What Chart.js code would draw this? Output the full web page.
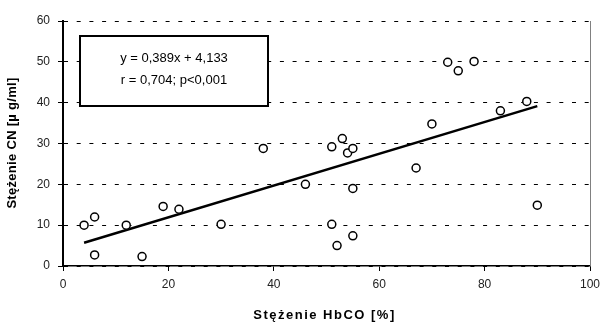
<!DOCTYPE html>
<html>
<head>
<meta charset="utf-8">
<script src="https://cdn.jsdelivr.net/npm/chart.js@4"></script>
<style>
  html, body { margin: 0; padding: 0; background: #fff; }
  #wrap { width: 603px; height: 322px; }
</style>
</head>
<body>
<div id="wrap"><canvas id="graph_1"></canvas></div>
<script>
// data
const hbco = [4, 6, 6, 12, 15, 19, 22, 30, 38, 46, 51, 51, 53, 54, 55, 55, 55, 52, 67, 70, 73, 75, 78, 83, 88, 90];
const cn = [10, 12, 2.7, 10, 2.3, 14.6, 13.9, 10.2, 28.8, 20, 29.2, 10.2, 31.2, 27.7, 28.8, 19, 7.4, 5, 24, 34.8, 49.9, 47.8, 50.1, 38, 40.3, 14.9];
const slope = 0.389;
const intercept = 4.133;
const fitText = ["y = 0,389x + 4,133", "r = 0,704; p<0,001"];
const xTitle = "Stężenie HbCO [%]";
const yTitle = "Stężenie CN [µ g/ml]";
const xTicks = [0, 20, 40, 60, 80, 100];
const yTicks = [0, 10, 20, 30, 40, 50, 60];

const points = hbco.map((x, i) => ({ x: x, y: cn[i] }));
const xMin = Math.min(...hbco);
const xMax = Math.max(...hbco);
const fitLine = [xMin, xMax].map((x) => ({ x: x, y: slope * x + intercept }));

const font = "'Liberation Sans', Arial, sans-serif";

const extras = {
  id: "extras",
  afterDraw(chart) {
    const c = chart.ctx;
    const a = chart.chartArea;
    c.save();
    // right border of plot area
    c.strokeStyle = "#808080";
    c.lineWidth = 1;
    c.beginPath();
    c.moveTo(a.right + 0.5, a.top);
    c.lineTo(a.right + 0.5, a.bottom);
    c.stroke();
    // equation box
    const bx = a.left + 17, by = a.top + 15, bw = 188, bh = 70;
    c.fillStyle = "#fff";
    c.fillRect(bx, by, bw, bh);
    c.strokeStyle = "#000";
    c.lineWidth = 2;
    c.strokeRect(bx, by, bw, bh);
    c.fillStyle = "#000";
    c.font = "13px " + font;
    c.textAlign = "center";
    c.textBaseline = "middle";
    c.fillText(fitText[0], bx + bw / 2, by + 22);
    c.fillText(fitText[1], bx + bw / 2, by + 44);
    // axis titles (spaced out like the original)
    c.font = "bold 13px " + font;
    c.letterSpacing = "1.5px";
    c.fillText(xTitle, (a.left + a.right) / 2 - 2, 315);
    c.letterSpacing = "0.3px";
    c.translate(12, 143);
    c.rotate(-Math.PI / 2);
    c.fillText(yTitle, 0, 0);
    c.restore();
  },
};

new Chart(document.getElementById("graph_1"), {
  type: "scatter",
  data: {
    datasets: [
      {
        label: "dane",
        data: points,
        pointRadius: 4,
        pointHoverRadius: 4,
        pointBorderWidth: 1.5,
        pointBorderColor: "#000",
        pointBackgroundColor: "#fff",
        order: 1,
      },
      {
        type: "line",
        label: "trend",
        data: fitLine,
        borderColor: "#000",
        borderWidth: 2.5,
        pointRadius: 0,
        fill: false,
        order: 2,
      },
    ],
  },
  options: {
    responsive: true,
    maintainAspectRatio: false,
    animation: false,
    layout: {
      padding: { left: 0, right: 13, top: 21, bottom: 0 },
    },
    plugins: {
      legend: { display: false },
      tooltip: { enabled: false },
    },
    scales: {
      x: {
        type: "linear",
        min: 0,
        max: 100,
        afterBuildTicks: (s) => { s.ticks = xTicks.map((v) => ({ value: v })); },
        afterFit: (s) => {
          s.height = 56;
          s.paddingLeft = 0;
          s.paddingRight = 0;
        },
        grid: {
          display: true,
          drawOnChartArea: false,
          drawTicks: true,
          tickLength: 5,
          color: "#000",
        },
        border: { display: true, color: "#000", width: 1.5 },
        ticks: {
          padding: 6,
          color: "#222",
          font: { family: font, size: 12 },
          maxRotation: 0,
        },
      },
      y: {
        type: "linear",
        min: 0,
        max: 60,
        afterBuildTicks: (s) => { s.ticks = yTicks.map((v) => ({ value: v })); },
        afterFit: (s) => {
          s.width = 63;
          s.paddingTop = 0;
          s.paddingBottom = 0;
        },
        grid: {
          color: "#000",
          lineWidth: 1,
          drawTicks: true,
          tickLength: 5,
        },
        border: { display: true, color: "#000", width: 2, dash: [4, 8.7] },
        ticks: {
          padding: 8,
          color: "#222",
          font: { family: font, size: 12 },
        },
      },
    },
  },
  plugins: [extras],
});
</script>
</body>
</html>
